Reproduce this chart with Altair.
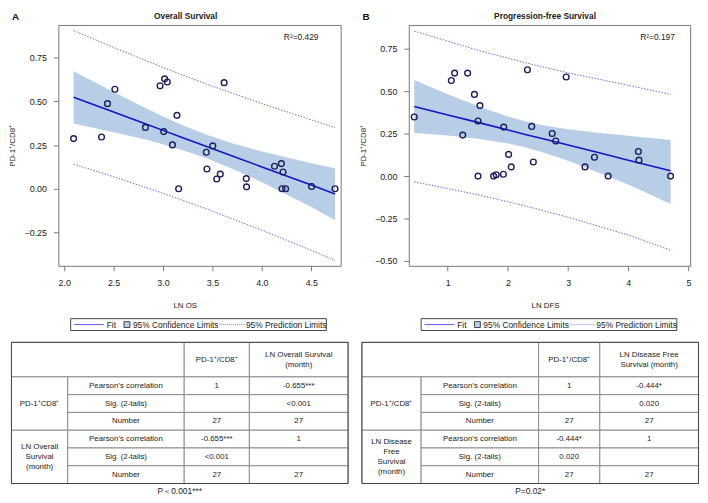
import altair as alt
import pandas as pd

FONT = "Liberation Sans"
INK = "#222222"

# ---------------- Panel A : Overall Survival ----------------
OS_X = [2.095, 2.378, 2.438, 2.513, 2.822, 2.970, 3.016, 3.043, 3.007, 3.095, 3.141, 3.158, 3.438, 3.444,
        3.503, 3.543, 3.579, 3.618, 3.842, 3.845, 4.128, 4.197, 4.214, 4.204, 4.240, 4.503, 4.740]
OS_Y = [0.287, 0.296, 0.487, 0.569, 0.351, 0.589, 0.629, 0.611, 0.327, 0.251, 0.420, 0.000, 0.209, 0.113,
        0.245, 0.056, 0.084, 0.607, 0.058, 0.011, 0.129, 0.144, 0.096, 0.000, 0.000, 0.013, 0.000]
OS_BAND_X = [2.095, 2.5, 2.8, 3.0, 3.2, 3.434, 3.7, 4.0, 4.5, 4.74]
OS_BAND_HI = [0.672, 0.553, 0.468, 0.414, 0.364, 0.310, 0.260, 0.213, 0.146, 0.118]
OS_BAND_LO = [0.374, 0.324, 0.284, 0.254, 0.221, 0.176, 0.115, 0.037, -0.105, -0.180]
OS_FIT = [0.523, 0.439, 0.376, 0.334, 0.292, 0.243, 0.188, 0.125, 0.021, -0.030]
OS_PRED_X = [2.095, 2.5, 3.0, 3.434, 4.0, 4.5, 4.74]
OS_PRED_HI = [0.905, 0.808, 0.694, 0.600, 0.487, 0.394, 0.350]
OS_PRED_LO = [0.141, 0.069, -0.026, -0.114, -0.237, -0.352, -0.410]
OS_XTICKS = [2.0, 2.5, 3.0, 3.5, 4.0, 4.5]
OS_YTICKS = [-0.25, 0.0, 0.25, 0.5, 0.75]

# ---------------- Panel B : Progression-free Survival ----------------
DFS_X = [0.443, 1.059, 1.114, 1.330, 1.443, 1.535, 1.503, 1.249, 1.503, 1.762, 1.805, 1.924, 1.930, 2.011,
         2.054, 2.324, 2.395, 2.422, 2.735, 2.795, 2.968, 3.281, 3.438, 3.665, 4.168, 4.178, 4.703]
DFS_Y = [0.349, 0.564, 0.608, 0.608, 0.482, 0.416, 0.325, 0.242, 0.000, 0.000, 0.008, 0.011, 0.289, 0.128,
         0.054, 0.628, 0.293, 0.083, 0.251, 0.207, 0.585, 0.054, 0.111, 0.000, 0.145, 0.094, 0.000]
DFS_BAND_X = [0.443, 1.0, 1.5, 2.0, 2.287, 2.6, 3.0, 3.5, 4.0, 4.703]
DFS_BAND_HI = [0.567, 0.483, 0.413, 0.352, 0.323, 0.299, 0.276, 0.256, 0.238, 0.213]
DFS_BAND_LO = [0.255, 0.239, 0.221, 0.192, 0.170, 0.138, 0.090, 0.021, -0.050, -0.165]
DFS_FIT = [0.411, 0.361, 0.317, 0.272, 0.246, 0.219, 0.183, 0.139, 0.094, 0.031]
DFS_PRED_X = [0.443, 1.5, 2.287, 3.0, 4.0, 4.703]
DFS_PRED_HI = [0.856, 0.743, 0.669, 0.609, 0.536, 0.482]
DFS_PRED_LO = [-0.034, -0.110, -0.176, -0.243, -0.348, -0.438]
DFS_XTICKS = [1, 2, 3, 4, 5]
DFS_YTICKS = [-0.5, -0.25, 0.0, 0.25, 0.5, 0.75]

# ---------------- texts ----------------
YTITLE = "PD-1\u207a/CD8\u207a"
LEGEND_LABELS = ["Fit", "95% Confidence Limits", "95% Prediction Limits"]
ROW_LABELS = ["Pearson\u2019s correlation", "Sig. (2-tails)", "Number"]
HEADER_COL3 = "PD-1\u207a/CD8\u207a"
A_HEADER4 = "LN Overall Survival\n(month)"
A_GROUPS = ["PD-1\u207aCD8\u207a", "LN Overall\nSurvival\n(month)"]
A_STATS = ["-0.655***", "<0.001", "27"]
A_P = "P\uff1c0.001***"
B_HEADER4 = "LN Disease Free\nSurvival (month)"
B_GROUPS = ["PD-1\u207a/CD8\u207a", "LN Disease\nFree\nSurvival\n(month)"]
B_STATS = ["-0.444*", "0.020", "27"]
B_P = "P=0.02*"

# ---------------- layout constants ----------------
PLOT_H = 244
AXIS_EXT = 48          # distance from table left edge to plot frame
TAB_W, BOT_H = 342, 180
ROW_EDGES = [24.5, 59.5, 77.5, 95.5, 113.5, 131.5, 149.5, 167.5]
A_COLS = [0.5, 57.5, 175.5, 241.5, 341.5]
B_COLS = [0.5, 60.5, 179.5, 241.5, 341.5]
LINE_H = 10
LEG_Y0, LEG_Y1 = 0.5, 12.5

C_POINT = "#1c1c5e"
C_FIT = "#1414c8"
C_BAND = "#b8cde6"
C_PRED = "#6a6ad8"


def scatter(px, py, bx, bhi, blo, bfit, qx, qhi, qlo, xdom, ydom, xticks, yticks, xfmt,
            xtitle, xtitle_x, title, title_x, letter, r2, r2_x, width):
    xs = alt.Scale(domain=xdom, nice=False, zero=False)
    ys = alt.Scale(domain=ydom, nice=False, zero=False)
    xax = alt.Axis(values=xticks, format=xfmt, title=xtitle, titleX=xtitle_x, labelFont=FONT,
                   labelFontSize=9, labelColor=INK, titleFont=FONT, titleFontSize=8,
                   titleFontWeight="normal", titleColor=INK, tickSize=5, tickColor="#777",
                   domain=False, grid=False, labelPadding=8, titlePadding=14)
    yax = alt.Axis(values=yticks, format=".2f", title=YTITLE, labelFont=FONT, labelFontSize=9,
                   labelColor=INK, titleFont=FONT, titleFontSize=8, titleFontWeight="normal",
                   titleColor=INK, tickSize=5, tickColor="#777", domain=False, grid=False,
                   labelPadding=7, titlePadding=7.5)

    def ex(f):
        return alt.X(f, type="quantitative", scale=xs, axis=xax)

    def ey(f):
        return alt.Y(f, type="quantitative", scale=ys, axis=yax)

    band = pd.DataFrame({"x": bx, "hi": bhi, "lo": blo, "fit": bfit})
    pred = pd.DataFrame({"x": qx, "hi": qhi, "lo": qlo})
    pts = pd.DataFrame({"x": px, "y": py})

    area = alt.Chart(band).mark_area(color=C_BAND, opacity=1).encode(x=ex("x"), y=ey("lo"), y2="hi")
    pu = alt.Chart(pred).mark_line(color=C_PRED, strokeWidth=1, strokeDash=[1.5, 1.5]).encode(
        x=ex("x"), y=ey("hi"))
    pl = alt.Chart(pred).mark_line(color=C_PRED, strokeWidth=1, strokeDash=[1.5, 1.5]).encode(
        x=ex("x"), y=ey("lo"))
    fit = alt.Chart(band).mark_line(color=C_FIT, strokeWidth=1.6).encode(x=ex("x"), y=ey("fit"))
    dots = alt.Chart(pts).mark_point(shape="circle", filled=False, color=C_POINT, strokeWidth=1.4,
                                     size=34, opacity=1).encode(x=ex("x"), y=ey("y"))
    r2t = alt.Chart(pd.DataFrame({"t": [r2]})).mark_text(
        font=FONT, fontSize=8.5, color=INK, align="center", baseline="middle").encode(
        x=alt.value(r2_x), y=alt.value(12), text="t:N")
    let = alt.Chart(pd.DataFrame({"t": [letter]})).mark_text(
        font=FONT, fontSize=10, fontWeight="bold", color="#111", align="left", baseline="middle").encode(
        x=alt.value(-47), y=alt.value(-8), text="t:N")
    ttl = alt.Chart(pd.DataFrame({"t": [title]})).mark_text(
        font=FONT, fontSize=8.5, fontWeight="bold", color=INK, align="center", baseline="middle").encode(
        x=alt.value(title_x), y=alt.value(-9), text="t:N")
    return alt.layer(area, pu, pl, fit, dots, r2t, let, ttl).properties(width=width, height=PLOT_H)


def bottom(cols, header4, groups, stats, ptext):
    # table coordinates: 0 = table's left edge; the view origin is aligned with the plot frame
    bw = TAB_W - AXIS_EXT
    xs = alt.Scale(domain=[AXIS_EXT, TAB_W], nice=False, zero=False)
    ys = alt.Scale(domain=[0, BOT_H], nice=False, zero=False, reverse=True)
    r = ROW_EDGES
    cells, texts = [], []

    def add_text(cx, cy, t):
        n = t.count("\n") + 1
        texts.append((cx, cy - (n - 1) * LINE_H / 2, t))

    cells.append((cols[0], cols[2], r[0], r[1]))
    cells.append((cols[2], cols[3], r[0], r[1]))
    cells.append((cols[3], cols[4], r[0], r[1]))
    add_text((cols[2] + cols[3]) / 2, (r[0] + r[1]) / 2, HEADER_COL3)
    add_text((cols[3] + cols[4]) / 2, (r[0] + r[1]) / 2, header4)
    for g in range(2):
        r0 = 1 + 3 * g
        cells.append((cols[0], cols[1], r[r0], r[r0 + 3]))
        add_text((cols[0] + cols[1]) / 2, (r[r0] + r[r0 + 3]) / 2, groups[g])
        c3 = ["1", "", "27"] if g == 0 else stats
        c4 = stats if g == 0 else ["1", "", "27"]
        for k in range(3):
            ri = r0 + k
            cy = (r[ri] + r[ri + 1]) / 2
            for ci, txt in ((1, ROW_LABELS[k]), (2, c3[k]), (3, c4[k])):
                cells.append((cols[ci], cols[ci + 1], r[ri], r[ri + 1]))
                if txt:
                    add_text((cols[ci] + cols[ci + 1]) / 2, cy, txt)

    cdf = pd.DataFrame(cells, columns=["x0", "x1", "y0", "y1"])
    tdf = pd.DataFrame(texts, columns=["cx", "cy", "t"])

    def ex(f):
        return alt.X(f, type="quantitative", scale=xs, axis=None)

    def ey(f):
        return alt.Y(f, type="quantitative", scale=ys, axis=None)

    grid = alt.Chart(cdf).mark_rect(fill="white", stroke="#8c8c8c", strokeWidth=1).encode(
        x=ex("x0"), x2="x1", y=ey("y0"), y2="y1")
    outer = alt.Chart(pd.DataFrame({"x0": [cols[0]], "x1": [cols[-1]], "y0": [r[0]], "y1": [r[-1]]})).mark_rect(
        fillOpacity=0, stroke="#444", strokeWidth=1).encode(x=ex("x0"), x2="x1", y=ey("y0"), y2="y1")
    txt = alt.Chart(tdf).mark_text(font=FONT, fontSize=8, color=INK, align="center", baseline="middle",
                                   lineBreak="\n", lineHeight=LINE_H).encode(
        x=ex("cx"), y=ey("cy"), text="t:N")

    lc = (LEG_Y0 + LEG_Y1) / 2
    lbox = alt.Chart(pd.DataFrame({"x0": [60.5], "x1": [319.5], "y0": [LEG_Y0], "y1": [LEG_Y1]})).mark_rect(
        fill="white", stroke="#444", strokeWidth=1).encode(x=ex("x0"), x2="x1", y=ey("y0"), y2="y1")
    lfit = alt.Chart(pd.DataFrame({"x0": [64], "x1": [94], "y": [lc]})).mark_rule(
        color="#5a5ae6", strokeWidth=1).encode(x=ex("x0"), x2="x1", y=ey("y"))
    lsq = alt.Chart(pd.DataFrame({"x0": [114.5], "x1": [120.5], "y0": [lc - 3], "y1": [lc + 3]})).mark_rect(
        fill=C_BAND, stroke="#444", strokeWidth=1).encode(x=ex("x0"), x2="x1", y=ey("y0"), y2="y1")
    lpred = alt.Chart(pd.DataFrame({"x0": [211], "x1": [237], "y": [lc]})).mark_rule(
        color="#8080e0", strokeWidth=1, strokeDash=[1, 1]).encode(x=ex("x0"), x2="x1", y=ey("y"))
    ltxt = alt.Chart(pd.DataFrame({"x": [97, 123.5, 238], "y": [lc] * 3, "t": LEGEND_LABELS})).mark_text(
        font=FONT, fontSize=8.5, color=INK, align="left", baseline="middle").encode(
        x=ex("x"), y=ey("y"), text="t:N")
    ptx = alt.Chart(pd.DataFrame({"x": [171], "y": [175.5], "t": [ptext]})).mark_text(
        font=FONT, fontSize=8.5, color=INK, align="center", baseline="middle").encode(
        x=ex("x"), y=ey("y"), text="t:N")
    return alt.layer(grid, outer, txt, lbox, lfit, lsq, lpred, ltxt, ptx).properties(
        width=bw, height=BOT_H, view=alt.ViewBackground(stroke="transparent"))


scA = scatter(OS_X, OS_Y, OS_BAND_X, OS_BAND_HI, OS_BAND_LO, OS_FIT, OS_PRED_X, OS_PRED_HI, OS_PRED_LO,
              [1.941, 4.797], [-0.441, 0.937], OS_XTICKS, OS_YTICKS, ".1f", "LN OS", 128,
              "Overall Survival", 129, "A", "R\u00b2=0.429", 246, 286)
scB = scatter(DFS_X, DFS_Y, DFS_BAND_X, DFS_BAND_HI, DFS_BAND_LO, DFS_FIT, DFS_PRED_X, DFS_PRED_HI,
              DFS_PRED_LO, [0.352, 5.028], [-0.530, 0.892], DFS_XTICKS, DFS_YTICKS, "d", "LN DFS", 138,
              "Progression-free Survival", 138, "B", "R\u00b2=0.197", 252, 285)

botA = bottom(A_COLS, A_HEADER4, A_GROUPS, A_STATS, A_P)
botB = bottom(B_COLS, B_HEADER4, B_GROUPS, B_STATS, B_P)

colA = alt.vconcat(scA, botA, spacing=7)
colB = alt.vconcat(scB, botB, spacing=7)

chart = alt.hconcat(colA, colB, spacing=9).properties(
    padding={"left": 0, "top": 0, "right": 0, "bottom": 0}
).configure(font=FONT).configure_view(stroke="#777", strokeWidth=1)

chart.save("out.html", embed_options={"renderer": "svg", "actions": False})
